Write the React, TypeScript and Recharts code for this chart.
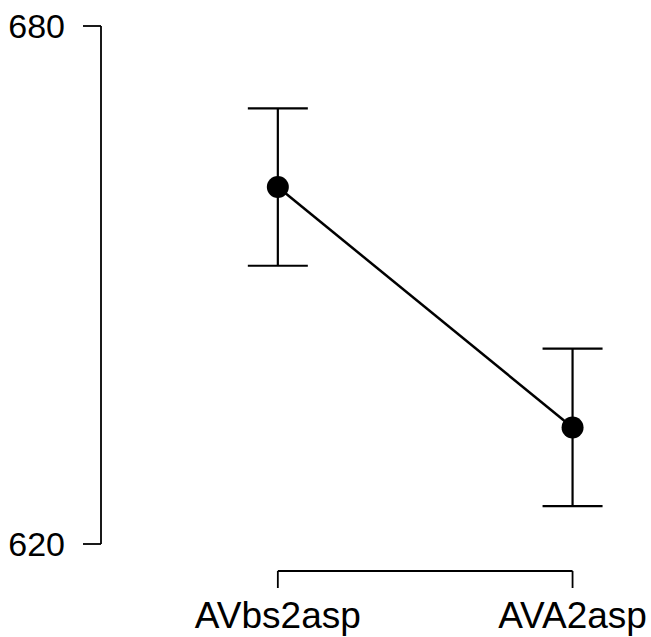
import { LineChart, Line, XAxis, YAxis, ErrorBar, ReferenceLine } from "recharts";

// Condition means with error bar half-lengths
const CATEGORIES = ["AVbs2asp", "AVA2asp"];
const MEANS = [661.35, 633.5];
const ERRORS = [9.12, 9.12];
const Y_TICKS = [620, 680];
const X_TICKS = [1, 2];

// R-style detached x axis: drawn a little below the lowest y tick
const X_AXIS_AT = 616.87;

const data = CATEGORIES.map((name, i) => ({
  pos: X_TICKS[i],
  name,
  mean: MEANS[i],
  err: ERRORS[i],
}));

const FONT = '"Liberation Sans", Arial, sans-serif';

interface TickProps {
  x?: number;
  y?: number;
  payload?: { value: number };
}

// x tick: short line hanging from the detached axis plus the label
function XTick({ x = 0, y = 0, payload }: TickProps) {
  const idx = X_TICKS.indexOf(Number(payload?.value));
  return (
    <g>
      <line x1={x} x2={x} y1={y + 27} y2={y + 44} stroke="#000" strokeWidth={1.8} />
      <text x={x} y={y + 84} textAnchor="middle" fontSize={37} fill="#000">
        {CATEGORIES[idx]}
      </text>
    </g>
  );
}

export default function App() {
  return (
    <div style={{ position: "absolute", left: 0, top: 0, fontFamily: FONT, background: "#fff" }}>
      <LineChart
        width={651}
        height={637}
        data={data}
        margin={{ top: 26, right: 19.5, left: 0, bottom: 0 }}
      >
        <XAxis
          dataKey="pos"
          type="number"
          domain={[0.4, 2.2]}
          ticks={X_TICKS}
          interval={0}
          axisLine={false}
          tickLine={false}
          tickSize={0}
          tickMargin={0}
          height={93}
          tick={<XTick />}
        />
        <YAxis
          domain={[620, 680]}
          ticks={Y_TICKS}
          interval={0}
          width={101}
          tickSize={18}
          tickMargin={18}
          axisLine={{ stroke: "#000", strokeWidth: 1.8 }}
          tickLine={{ stroke: "#000", strokeWidth: 1.8 }}
          tick={{ fontSize: 34, fill: "#000" }}
        />
        <ReferenceLine
          segment={[
            { x: X_TICKS[0], y: X_AXIS_AT },
            { x: X_TICKS[X_TICKS.length - 1], y: X_AXIS_AT },
          ]}
          ifOverflow="visible"
          stroke="#000"
          strokeWidth={1.8}
        />
        <Line
          dataKey="mean"
          type="linear"
          stroke="#000"
          strokeWidth={2.5}
          dot={{ r: 11, fill: "#000", stroke: "#000", strokeWidth: 0 }}
          activeDot={false}
          isAnimationActive={false}
        >
          <ErrorBar dataKey="err" width={30} stroke="#000" strokeWidth={2.2} isAnimationActive={false} />
        </Line>
      </LineChart>
    </div>
  );
}
